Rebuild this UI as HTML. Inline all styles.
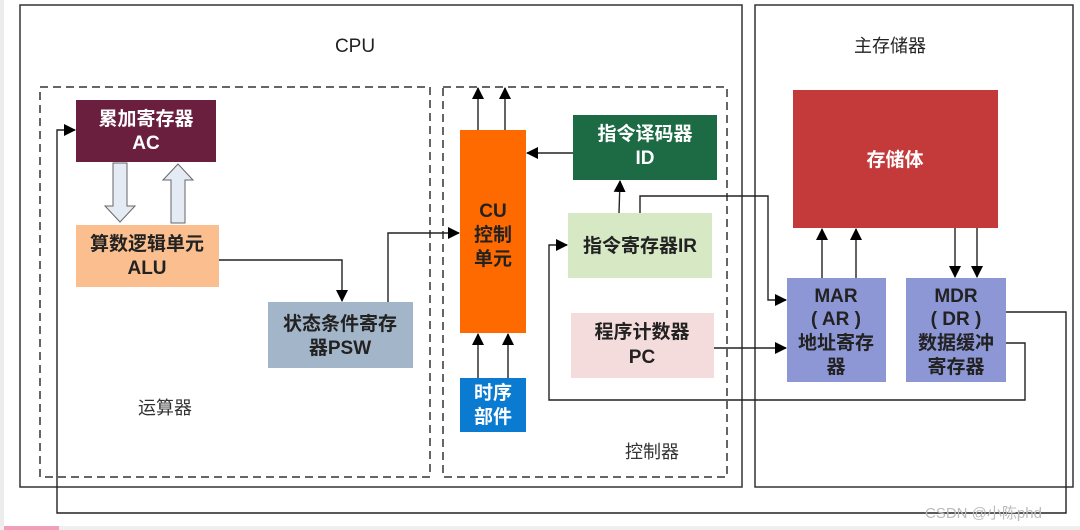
<!DOCTYPE html>
<html><head><meta charset="utf-8"><style>
html,body{margin:0;padding:0;background:#fff;}
svg{display:block;}
text{font-family:"Liberation Sans","Noto Sans CJK SC",sans-serif;}
.b{font-weight:bold;font-size:19px;}
</style></head><body>
<svg width="1080" height="530" viewBox="0 0 1080 530" xmlns="http://www.w3.org/2000/svg">
<defs>
<marker id="a" markerWidth="12" markerHeight="12" refX="11" refY="6" orient="auto" markerUnits="userSpaceOnUse">
<path d="M0,0 L12,6 L0,12 z" fill="#000"/></marker>
</defs>
<rect x="0" y="0" width="4" height="530" fill="#ececec"/>
<rect x="0" y="526" width="1080" height="4" fill="#efefef"/>
<rect x="4" y="526" width="55" height="4" fill="#f2a0b8"/>
<g fill="none" stroke="#333" stroke-width="1.5">
<rect x="20" y="5" width="722" height="482"/>
<rect x="755" y="5" width="318" height="482"/>
</g>
<g fill="none" stroke="#333" stroke-width="1.5" stroke-dasharray="8,5">
<rect x="40" y="87" width="390" height="390"/>
<rect x="443" y="87" width="284" height="390"/>
</g>
<text x="355" y="52" font-size="19" text-anchor="middle" fill="#222">CPU</text>
<text x="890" y="52" font-size="18" text-anchor="middle" fill="#222">主存储器</text>
<text x="165" y="414" font-size="18" text-anchor="middle" fill="#333">运算器</text>
<text x="652" y="458" font-size="18" text-anchor="middle" fill="#333">控制器</text>

<rect x="76" y="100" width="140" height="62" fill="#6b1f3f"/>
<text x="146" y="125" class="b" fill="#fff" text-anchor="middle">累加寄存器</text>
<text x="146" y="149" class="b" fill="#fff" text-anchor="middle">AC</text>
<rect x="76" y="225" width="143" height="62" fill="#fbbf8f"/>
<text x="147" y="250" class="b" fill="#222" text-anchor="middle">算数逻辑单元</text>
<text x="147" y="274" class="b" fill="#222" text-anchor="middle">ALU</text>
<path d="M113,163 h14 v43 h8 l-15,16 l-15,-16 h8 z" fill="#e4ebf5" stroke="#666" stroke-width="1"/>
<path d="M171,223 h14 v-43 h8 l-15,-16 l-15,16 h8 z" fill="#e4ebf5" stroke="#666" stroke-width="1"/>
<rect x="268" y="302" width="145" height="66" fill="#a3b5c8"/>
<text x="340" y="330" class="b" fill="#222" text-anchor="middle">状态条件寄存</text>
<text x="340" y="354" class="b" fill="#222" text-anchor="middle">器PSW</text>
<rect x="460" y="130" width="66" height="203" fill="#ff6a00"/>
<text x="493" y="217" class="b" fill="#222" text-anchor="middle">CU</text>
<text x="493" y="241" class="b" fill="#222" text-anchor="middle">控制</text>
<text x="493" y="265" class="b" fill="#222" text-anchor="middle">单元</text>
<rect x="460" y="378" width="66" height="54" fill="#0a7bd0"/>
<text x="493" y="399" class="b" fill="#fff" text-anchor="middle">时序</text>
<text x="493" y="423" class="b" fill="#fff" text-anchor="middle">部件</text>
<rect x="573" y="115" width="144" height="65" fill="#1c6b45"/>
<text x="645" y="140" class="b" fill="#fff" text-anchor="middle">指令译码器</text>
<text x="645" y="164" class="b" fill="#fff" text-anchor="middle">ID</text>
<rect x="568" y="213" width="144" height="65" fill="#d7e8c4"/>
<text x="640" y="252" class="b" fill="#222" text-anchor="middle">指令寄存器IR</text>
<rect x="571" y="313" width="143" height="65" fill="#f5dcdc"/>
<text x="642" y="338" class="b" fill="#222" text-anchor="middle">程序计数器</text>
<text x="642" y="363" class="b" fill="#222" text-anchor="middle">PC</text>
<rect x="793" y="90" width="205" height="138" fill="#c43a3a"/>
<text x="895" y="166" class="b" fill="#fff" text-anchor="middle">存储体</text>
<rect x="787" y="278" width="99" height="104" fill="#8e97d6"/>
<text x="836" y="302" class="b" fill="#222" text-anchor="middle">MAR</text>
<text x="836" y="325" class="b" fill="#222" text-anchor="middle">( AR )</text>
<text x="836" y="349" class="b" fill="#222" text-anchor="middle">地址寄存</text>
<text x="836" y="373" class="b" fill="#222" text-anchor="middle">器</text>
<rect x="906" y="278" width="100" height="104" fill="#8e97d6"/>
<text x="956" y="302" class="b" fill="#222" text-anchor="middle">MDR</text>
<text x="956" y="325" class="b" fill="#222" text-anchor="middle">( DR )</text>
<text x="956" y="349" class="b" fill="#222" text-anchor="middle">数据缓冲</text>
<text x="956" y="373" class="b" fill="#222" text-anchor="middle">寄存器</text>

<g fill="none" stroke="#222" stroke-width="1.4" marker-end="url(#a)">
<path d="M219,260 H342 V301"/>
<path d="M388,302 V233 H459"/>
<path d="M478,130 V88"/>
<path d="M505,130 V88"/>
<path d="M478,378 V334"/>
<path d="M508,378 V334"/>
<path d="M573,153 H527"/>
<path d="M619,213 L620,181"/>
<path d="M640,213 V196 H768 V300 H786"/>
<path d="M714,348 H786"/>
<path d="M822,278 V229"/>
<path d="M856,278 V229"/>
<path d="M955,228 V277"/>
<path d="M977,228 V277"/>
<path d="M1006,312 H1066 V513 H57 V130 H75"/>
<path d="M1006,343 H1025 V400 H549 V245 H567"/>
</g>
<text x="925" y="518" font-size="15" fill="#bbb">CSDN @小陈phd</text>
</svg>
</body></html>
